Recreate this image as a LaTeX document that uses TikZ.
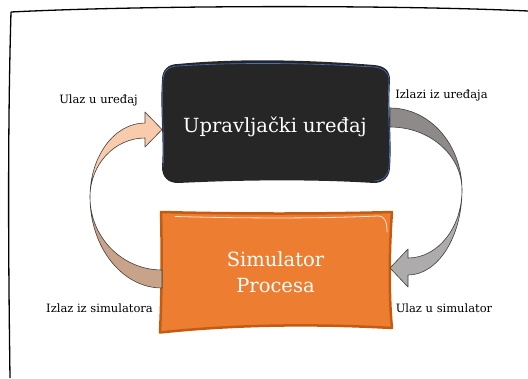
\documentclass[tikz,border=0pt]{standalone}
\usepackage{fontspec}
\setmainfont{DejaVu Serif}
\definecolor{peach}{HTML}{F8CBAD}
\definecolor{tan}{HTML}{C9A28A}
\definecolor{darkg}{HTML}{8E8A8A}
\definecolor{lightg}{HTML}{ADABAB}
\definecolor{edge}{HTML}{3F3F3F}
\definecolor{boxblack}{HTML}{262626}
\definecolor{boxblue}{HTML}{4472C4}
\definecolor{orangef}{HTML}{ED7D31}
\definecolor{oranged}{HTML}{C55A11}
\begin{document}
\begin{tikzpicture}[x=1pt,y=-1pt,
  lbl/.style={font=\fontsize{11.5}{13}\selectfont, text=black, inner sep=0pt, anchor=base},
  ttl/.style={font=\fontsize{19.5}{26}\selectfont, text=white, inner sep=0pt, anchor=base, align=center},
  arr/.style={draw=edge, line width=0.6pt, line join=round}]
\useasboundingbox (0,0) rectangle (528,378);
% frame
\draw[line width=1.3pt] (11,12) .. controls (150,5) and (400,5) .. (528,11);
\draw[line width=1.3pt] (11,12) .. controls (7,150) and (9,300) .. (10,378);
% black box
\fill[boxblack] (162,80) .. controls (162,70) and (168,64) .. (178,64)
  .. controls (240,58) and (310,60) .. (374,65)
  .. controls (384,66) and (390,70) .. (390,80)
  .. controls (388,110) and (392,140) .. (390,167)
  .. controls (390,176) and (384,183) .. (374,183)
  .. controls (310,179) and (240,180) .. (178,183)
  .. controls (168,183) and (162,177) .. (162,167)
  .. controls (164,140) and (160,110) .. (162,80) -- cycle;
\draw[boxblue, line width=0.6pt] (163,80) .. controls (163,71) and (169,66) .. (178,66)
  .. controls (240,62) and (310,63) .. (374,67)
  .. controls (383,68) and (389,72) .. (389,80)
  .. controls (387,110) and (391,140) .. (389,167)
  .. controls (389,175) and (383,181) .. (374,181);
\draw[boxblue, line width=0.5pt] (163,167) .. controls (165,140) and (161,110) .. (163,80);
% orange box
\filldraw[fill=orangef, draw=oranged, line width=2.5pt, line join=round]
  (161,212) .. controls (240,214) and (320,214) .. (392,212)
  .. controls (389,250) and (389,300) .. (392,328)
  .. controls (320,324) and (240,324) .. (160,332.5)
  .. controls (162,290) and (162,250) .. (161,212) -- cycle;
\draw[white, opacity=0.8, line width=0.8pt, line cap=round] (175,216.5) .. controls (250,218.5) and (320,218.5) .. (378,216) .. controls (385,216) and (387,222) .. (387,232);
% left arrow: lower band
\filldraw[arr, fill=tan] (90,197) .. controls (90,247.3) and (122.2,288) .. (162,288)
  -- (162,270) .. controls (122.2,270) and (90,237.3) .. (90,197) -- cycle;
% left arrow: upper band with head
\filldraw[arr, fill=peach] (90,197) .. controls (90,156.1) and (114.6,123) .. (145,123)
  -- (145,112) -- (162,129.5) -- (145,147) -- (145,138)
  .. controls (114.6,138) and (90,164.4) .. (90,197) -- cycle;
% right arrow: upper band
\filldraw[arr, fill=darkg] (390,108) .. controls (429.8,108) and (462,144.7) .. (462,190)
  .. controls (462,155.2) and (429.8,127) .. (390,127) -- cycle;
% right arrow: lower band with head
\filldraw[arr, fill=lightg] (462,190) .. controls (462,236.9) and (437.8,275) .. (408,275)
  -- (408,287) -- (390,268) -- (408,249) -- (408,258)
  .. controls (437.8,258) and (462,227.6) .. (462,190) -- cycle;
% titles
\node[ttl] (ctrl) at (275,132) {Upravljački uređaj};
\node[ttl] (sim1) at (275.5,266.5) {Simulator};
\node[ttl] (sim2) at (275.5,292.5) {Procesa};
% labels
\node[lbl] (l1) at (98.5,103) {Ulaz u uređaj};
\node[lbl] (l2) at (441.5,98) {Izlazi iz uređaja};
\node[lbl] (l3) at (99.5,312) {Izlaz iz simulatora};
\node[lbl] (l4) at (444,312) {Ulaz u simulator};
\end{tikzpicture}
\end{document}
